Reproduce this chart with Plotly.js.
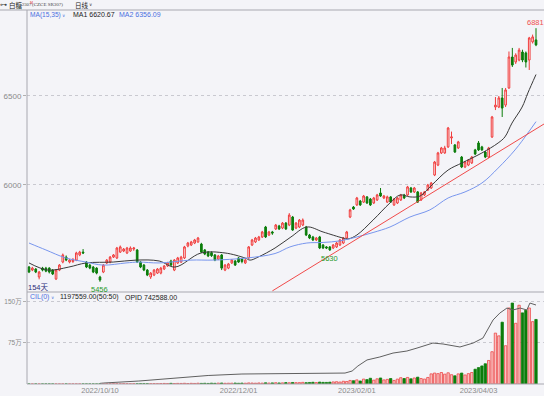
<!DOCTYPE html>
<html><head><meta charset="utf-8">
<script src="https://cdn.plot.ly/plotly-3.0.1.min.js"></script>
<style>html,body{margin:0;padding:0;background:#f4f4f8;}#chart{width:544px;height:396px;}</style>
</head><body><div id="chart"></div>
<script>
// ---- data ----
const openP = [5539,5522,5528,5483,5533,5533,5533,5522,5472,5522,5567,5595,5567,5570,5578,5607,5623,5567,5550,5539,5533,5483,5511,5562,5567,5595,5590,5623,5629,5618,5629,5640,5635,5567,5550,5522,5483,5494,5505,5505,5528,5545,5573,5522,5562,5567,5590,5657,5663,5674,5680,5668,5635,5623,5620,5607,5584,5607,5522,5533,5562,5573,5590,5584,5562,5590,5663,5680,5691,5708,5764,5719,5736,5753,5770,5758,5786,5775,5820,5758,5764,5775,5764,5719,5708,5691,5708,5663,5652,5652,5646,5652,5663,5674,5702,5820,5876,5888,5910,5904,5933,5921,5899,5916,5955,5927,5904,5933,5888,5899,5916,5944,5944,5983,5961,5961,5916,5944,5972,5983,6056,6112,6180,6180,6214,6264,6225,6208,6157,6101,6112,6124,6197,6236,6214,6185,6157,6270,6438,6438,6489,6449,6545,6719,6691,6702,6747,6742,6702,6804,6815];
const highP = [5545,5540,5533,5517,5540,5540,5538,5528,5528,5556,5615,5604,5585,5590,5625,5630,5640,5572,5556,5545,5538,5490,5556,5584,5601,5612,5652,5660,5646,5652,5655,5652,5640,5572,5556,5528,5511,5528,5533,5540,5550,5568,5580,5584,5596,5602,5658,5680,5686,5697,5708,5675,5640,5629,5627,5612,5607,5612,5556,5562,5584,5578,5595,5590,5584,5657,5697,5708,5714,5742,5770,5742,5742,5781,5776,5792,5792,5842,5826,5792,5809,5812,5770,5725,5714,5708,5714,5668,5657,5657,5668,5680,5697,5708,5742,5866,5882,5933,5916,5944,5938,5927,5933,5950,5983,5944,5940,5938,5927,5933,5950,5950,5995,5989,5989,5966,5961,5966,6006,6017,6135,6186,6214,6220,6326,6300,6230,6248,6163,6135,6146,6163,6203,6247,6220,6191,6214,6388,6494,6500,6545,6545,6750,6770,6740,6770,6760,6750,6832,6845,6881];
const lowP = [5505,5516,5505,5470,5515,5510,5503,5494,5466,5516,5560,5572,5560,5562,5572,5600,5612,5533,5527,5505,5498,5456,5505,5556,5560,5590,5584,5618,5623,5612,5624,5630,5562,5533,5516,5488,5472,5488,5500,5498,5522,5540,5545,5516,5556,5562,5584,5650,5657,5668,5675,5618,5606,5595,5596,5572,5578,5522,5516,5527,5556,5545,5562,5560,5556,5584,5657,5674,5686,5702,5702,5713,5720,5747,5747,5752,5747,5769,5742,5752,5758,5769,5713,5696,5685,5685,5640,5640,5640,5630,5640,5646,5657,5668,5697,5814,5860,5882,5882,5899,5893,5882,5893,5910,5933,5921,5899,5899,5882,5893,5910,5921,5938,5955,5955,5899,5910,5938,5966,5978,6050,6106,6174,6175,6208,6230,6180,6202,6095,6095,6106,6118,6168,6191,6191,6151,6151,6264,6421,6432,6382,6438,6540,6663,6680,6695,6690,6660,6646,6795,6780];
const closeP = [5511,5533,5511,5511,5522,5516,5511,5500,5522,5550,5607,5578,5578,5580,5618,5623,5618,5539,5533,5511,5505,5466,5550,5578,5595,5607,5646,5652,5640,5646,5646,5646,5567,5539,5522,5494,5505,5522,5528,5533,5545,5562,5550,5578,5590,5595,5652,5674,5680,5691,5702,5623,5612,5601,5603,5578,5601,5533,5550,5556,5578,5550,5567,5570,5578,5652,5691,5702,5708,5736,5708,5736,5730,5775,5753,5786,5753,5831,5747,5786,5803,5803,5719,5702,5691,5702,5646,5646,5646,5635,5663,5674,5691,5702,5736,5860,5865,5927,5888,5938,5899,5888,5927,5944,5938,5938,5933,5904,5921,5927,5944,5927,5989,5961,5983,5904,5955,5961,6000,6011,6129,6180,6208,6208,6320,6270,6185,6242,6101,6129,6140,6157,6174,6197,6197,6157,6208,6382,6449,6489,6432,6534,6719,6674,6730,6758,6702,6691,6826,6832,6787];
// volume in 万手
const volume = [0,0,0,0,0,0,0,0,0,0,0,0,0,0,0,0,0,0,0,0,0,0.3,0.2,0.3,0.2,0.3,0.3,0.2,0.4,0.3,0.3,0.4,0.3,0.5,0.4,0.4,0.5,0.6,0.5,0.7,
  1.0,0.8,1.2,0.9,1.1,1.0,1.3,0.9,1.2,1.0,1.4,1.1,1.3,1.0,1.5,1.2,1.6,1.8,1.3,1.4,1.5,1.7,1.3,1.6,1.4,2.0,1.8,1.5,1.9,1.6,
  2.2,1.8,2.0,2.4,1.9,2.1,2.6,2.3,2.8,2.5,2.6,3.0,2.4,2.8,3.2,2.7,3.5,3.0,2.9,3.3,3.8,4.2,3.6,5.0,4.6,6.5,
  6.0,7.5,5.5,9.0,8.0,10.5,7.0,9.5,11.0,7.5,8.5,10.0,6.5,9.0,11.5,10.0,12.0,9.5,11.0,12.5,10.0,9.0,12.0,
  18.5,20.0,19.0,21.0,18.0,20.5,17.0,15.0,18.5,20.0,16.5,19.0,21.0,27.0,30.0,33.0,37,43,59,93,88,113,70,139,148,111,144,130,135,139,114,118];
// open interest (万手) at sampled candles
const oiIdx = [21,22,32.5,43,53,63,74,84,90,93.5,95.6,97.3,100,103.8,107.7,111.8,114.8,119.5,122.5,127.5,131.4,134.3,137.3,139.3,141.4,143.2,145.3,147.3,148.2,150];
const oiVal = [0.6,0.9,2.8,5.6,8.0,9.4,9.9,9.9,10.8,10.3,12.2,16.9,22.6,25.4,29.1,31.0,33.8,38.5,37.6,34.8,38.5,43.2,60.2,66.7,71.4,69.6,71.4,69.6,76.1,74.26];
// moving averages read at sampled candles
const ma1Idx = [0,5.6,11.8,16.9,24.9,31.7,38.5,43.2,50.9,58,63.9,65.4,67.8,72.8,77.5,82.2,87,92.9,94.4,97,101.8,106.8,109.8,112.7,115.7,119.2,124,128.1,134,138.8,140.8,142.9,145.9,147.6,150];
const ma1Val = [5562,5522,5539,5562,5567,5578,5573,5539,5618,5618,5590,5578,5595,5646,5708,5764,5736,5702,5697,5719,5803,5899,5944,5933,5938,6000,6084,6124,6180,6236,6270,6348,6438,6517,6620.67];
const ma2Idx = [0,5,10.9,16.9,21.9,28.7,32.5,38.5,47.9,54.4,64.5,72.8,77.2,82.2,87,92,97,101.8,106.8,112.7,118.6,124,129,134,138.8,143.8,147.6,150];
const ma2Val = [5674,5635,5590,5567,5550,5562,5567,5562,5578,5578,5590,5615,5652,5674,5677,5686,5708,5733,5764,5820,5860,5927,5961,6011,6095,6197,6292,6356.09];
const trendIdx = [72,153];
const trendVal = [5405,6350];
const markIdx = [21,89,150];
const markVal = [5456,5630,6881];
const tickIdx = [21,62,97,133];
const tickText = ['2022/10/10','2022/12/01','2023/02/01','2023/04/03'];
const priceTicks = [6000,6500];
const volTicks = [75,150];
const volTickText = ['75万','150万'];

// ---- chart ----
const N = closeP.length;
const xs = [];
for (let i = 0; i < N; i++) xs.push(i);
const UP = '#f03c3c', DN = '#0b7d0b';
const isUp = closeP.map((c, i) => c >= openP[i]);

const traces = [
  {type:'candlestick', x:xs, open:openP, high:highP, low:lowP, close:closeP, xaxis:'x', yaxis:'y',
   increasing:{line:{color:UP,width:1}, fillcolor:'#fdeeee'},
   decreasing:{line:{color:DN,width:1}, fillcolor:DN},
   whiskerwidth:0, hoverinfo:'skip', showlegend:false},
  {type:'scatter', mode:'lines', x:ma1Idx, y:ma1Val, xaxis:'x', yaxis:'y', line:{color:'#3a3a3a',width:1,shape:'spline'}, hoverinfo:'skip', showlegend:false},
  {type:'scatter', mode:'lines', x:ma2Idx, y:ma2Val, xaxis:'x', yaxis:'y', line:{color:'#7896ee',width:1,shape:'spline'}, hoverinfo:'skip', showlegend:false},
  {type:'scatter', mode:'lines', x:trendIdx, y:trendVal, xaxis:'x', yaxis:'y', line:{color:'#f04a4a',width:1}, hoverinfo:'skip', showlegend:false, cliponaxis:true},
  {type:'bar', x:xs, y:volume, xaxis:'x', yaxis:'y2',
   marker:{color:isUp.map(u => u ? '#f8c2c2' : DN), line:{color:isUp.map(u => u ? '#ee4646' : DN), width:0.8}},
   hoverinfo:'skip', showlegend:false},
  {type:'scatter', mode:'lines', x:oiIdx, y:oiVal, xaxis:'x', yaxis:'y3', line:{color:'#606060',width:1}, hoverinfo:'skip', showlegend:false}
];

const W = 544, H = 396, L = 27, R = 0, T = 10, B = 12;
const pw = W - L - R, ph = H - T - B;
const px = x => (x - L - 2) / pw;   // 2px compensates the annotation box padding
const py = y => (H - B - y) / ph;
const split = (H - B - 292) / ph;

const txt = (x, y, text, opt) => Object.assign({xref:'paper', yref:'paper', x:px(x), y:py(y), text:text, showarrow:false,
  xanchor:'left', yanchor:'middle', font:{family:'Liberation Sans, Noto Sans CJK SC', size:7, color:'#222'}}, opt || {});

const annotations = [
  txt(0, 4.5, '⊶', {font:{family:'DejaVu Sans', size:7, color:'#444'}}),
  txt(8.5, 4.5, '白糖', {font:{family:'Noto Sans CJK SC', size:6.5, color:'#222'}}),
  txt(21.5, 5, '2307', {font:{family:'Liberation Serif', size:4.6, color:'#444'}}),
  txt(29.5, 2.5, 'M', {font:{family:'Liberation Sans', size:3.5, color:'#e03030'}}),
  txt(32, 5, '(CZCE SR307)', {font:{family:'Liberation Serif', size:5, color:'#444'}}),
  txt(75, 4.5, '日线', {font:{family:'Noto Sans CJK SC', size:6.5, color:'#222'}}),
  txt(89, 5, '∨', {font:{family:'DejaVu Sans', size:4.5, color:'#333'}}),
  txt(30, 14.5, 'MA(15,35)', {font:{family:'Liberation Sans', size:6.6, color:'#4a6fe0'}}),
  txt(62, 15, '∨', {font:{family:'DejaVu Sans', size:4.5, color:'#4a6fe0'}}),
  txt(73, 14.5, 'MA1 6620.67', {font:{family:'Liberation Sans', size:7, color:'#222'}}),
  txt(119, 14.5, 'MA2 6356.09', {font:{family:'Liberation Sans', size:7, color:'#4a6fe0'}}),
  txt(30, 297, 'CIL(0)', {font:{family:'Liberation Sans', size:7, color:'#4a6fe0'}}),
  txt(51, 297.5, '∨', {font:{family:'DejaVu Sans', size:4.5, color:'#4a6fe0'}}),
  txt(60, 297, '1197559.00(50:50)', {font:{family:'Liberation Sans', size:7, color:'#222'}}),
  txt(125, 297, 'OPID 742588.00', {font:{family:'Liberation Sans', size:7, color:'#222'}}),
  txt(28, 287, '154天', {font:{family:'Liberation Sans, Noto Sans CJK SC', size:7.5, color:'#2d2d7a'}}),
  {xref:'x', yref:'y', x:markIdx[0], y:markVal[0], text:String(markVal[0]), showarrow:false, yanchor:'top', yshift:-1,
   font:{family:'Liberation Sans', size:7.5, color:'#2a9a2a'}},
  {xref:'x', yref:'y', x:markIdx[1], y:markVal[1], text:String(markVal[1]), showarrow:false, yanchor:'top', yshift:-1,
   font:{family:'Liberation Sans', size:7.5, color:'#2a9a2a'}},
  {xref:'x', yref:'y', x:markIdx[2], y:markVal[2], text:String(markVal[2]), showarrow:false, yanchor:'bottom', xanchor:'right', xshift:10, yshift:-1,
   font:{family:'Liberation Sans', size:7.5, color:'#f05050'}}
];

const lineC = '#a8a8b0';
const shapes = [
  {type:'line', xref:'paper', yref:'paper', x0:-L / pw, x1:1, y0:1, y1:1, line:{color:lineC,width:1}},
  {type:'line', xref:'paper', yref:'paper', x0:0, x1:0, y0:0, y1:1, line:{color:lineC,width:1}},
  {type:'line', xref:'paper', yref:'paper', x0:0, x1:1, y0:split, y1:split, line:{color:lineC,width:1}},
  {type:'line', xref:'paper', yref:'paper', x0:0, x1:1, y0:0, y1:0, line:{color:lineC,width:1}}
];

const axFont = {family:'Liberation Sans, Noto Sans CJK SC', size:7.5, color:'#8a8a8a'};
const layout = {
  width:W, height:H, margin:{l:L, r:R, t:T, b:B, pad:0},
  paper_bgcolor:'#f4f4f8', plot_bgcolor:'#f4f4f8',
  showlegend:false, hovermode:false, dragmode:false, bargap:0.3,
  xaxis:{domain:[0,1], anchor:'y2', range:[(L - 29) / 3.38, (W - R - 29) / 3.38], showgrid:false, zeroline:false, showline:false,
         tickmode:'array', tickvals:tickIdx, ticktext:tickText, ticks:'', tickfont:axFont, rangeslider:{visible:false}, fixedrange:true},
  yaxis:{domain:[split,1], range:[5398.8, 6983.1], tickmode:'array', tickvals:priceTicks, ticks:'outside', ticklen:3, tickcolor:'#b0b0b0',
         showgrid:true, gridcolor:'#c9c9d0', griddash:'dot', gridwidth:1, zeroline:false, showline:false, tickfont:Object.assign({}, axFont, {size:8}), fixedrange:true},
  yaxis2:{domain:[0,split], range:[0, 168.2], tickmode:'array', tickvals:volTicks, ticktext:volTickText, ticks:'outside', ticklen:3, tickcolor:'#b0b0b0',
         showgrid:true, gridcolor:'#c9c9d0', griddash:'dot', gridwidth:1, zeroline:false, showline:false, tickfont:Object.assign({}, axFont, {size:6.5}), fixedrange:true},
  yaxis3:{overlaying:'y2', range:[0, 86.5], visible:false, fixedrange:true},
  annotations:annotations, shapes:shapes
};
Plotly.newPlot('chart', traces, layout, {displayModeBar:false, staticPlot:true});
</script></body></html>
